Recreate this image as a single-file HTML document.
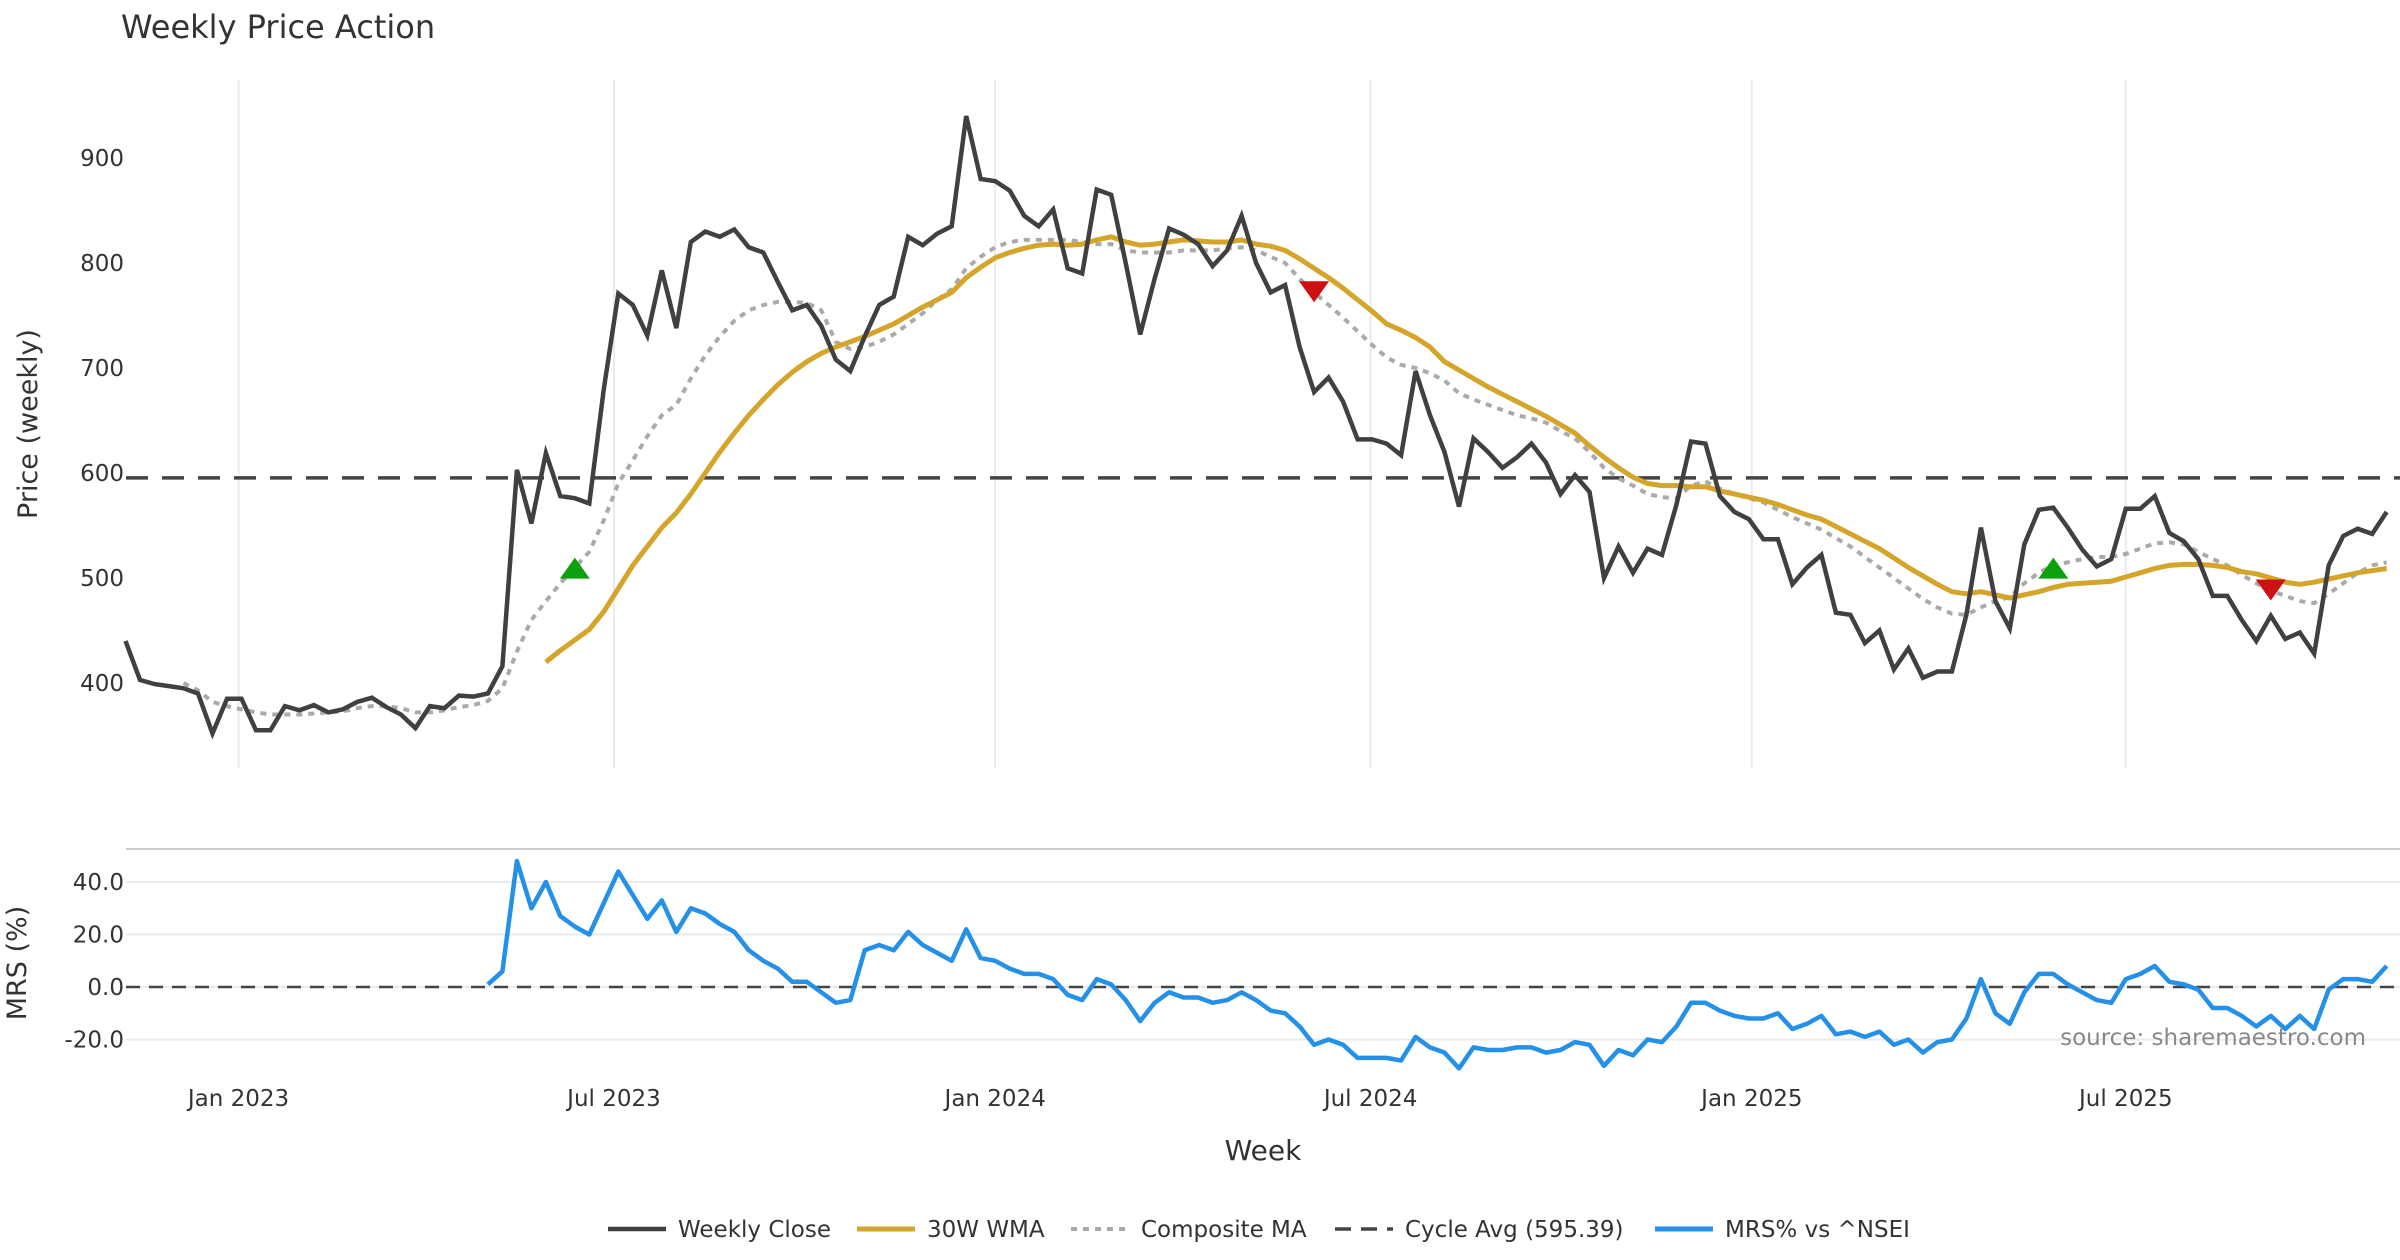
<!DOCTYPE html>
<html><head><meta charset="utf-8"><style>
html,body{margin:0;padding:0;background:#fff;}
svg{display:block;font-family:"DejaVu Sans","Liberation Sans",sans-serif;}
</style></head><body>
<svg id="chart" width="2400" height="1260" viewBox="0 0 2400 1260" xmlns="http://www.w3.org/2000/svg">
<text x="121" y="38" font-size="32" fill="#333">Weekly Price Action</text>
<g id="grid"></g>
<g id="series"></g>
<g id="axes"></g>
<text x="2366" y="1045" font-size="23" fill="#888" text-anchor="end">source: sharemaestro.com</text>
<g id="legend"></g>
</svg>
<script>
const closes=[440,403,399,397,395,390,352,385,385,355,355,378,374,379,372,375,382,386,377,370,357,378,376,388,387,390,416,603,552,619,578,576,571,680,771,760,731,793,738,820,830,825,832,815,810,782,755,760,740,708,697,730,760,768,825,817,828,835,940,880,878,869,845,835,851,795,790,870,865,800,732,785,833,827,818,797,812,845,800,772,779,720,677,691,668,632,632,628,617,697,655,620,568,633,620,605,615,628,610,580,598,582,500,530,505,528,522,570,630,628,578,563,556,537,537,494,510,522,467,465,438,450,413,433,405,411,411,465,548,478,452,532,565,567,548,527,511,518,566,566,578,543,535,518,483,483,460,440,464,442,448,428,512,540,547,542,563];
const wmaStart=29;
const wma=[420,431,441,451,468,490,512,530,548,562,580,600,620,638,655,670,684,696,706,714,720,725,730,736,742,750,758,765,772,786,796,805,810,814,817,818,817,818,822,825,820,817,818,820,822,821,820,820,822,818,816,812,804,795,786,776,765,754,742,736,729,720,706,698,690,682,675,668,661,654,646,638,626,615,605,596,590,588,588,587,587,583,580,577,574,570,565,560,556,549,542,535,528,519,510,502,494,487,485,487,484,481,484,487,491,494,495,496,497,501,505,509,512,513,513,512,510,506,504,500,496,494,496,499,502,505,507,509];
const compStart=4;
const comp=[400,393,382,378,375,372,370,370,370,371,372,373,376,378,378,376,372,372,374,377,379,383,395,430,460,478,495,510,525,555,590,612,635,655,665,690,712,730,745,755,760,763,763,762,755,725,718,720,725,732,742,752,765,775,795,806,815,820,822,822,822,822,820,818,818,812,810,810,810,812,812,812,814,815,812,806,800,785,772,760,748,735,722,710,703,700,695,688,676,670,665,660,655,652,648,640,633,620,605,595,588,580,577,576,588,592,585,580,576,572,565,558,552,546,538,530,520,510,500,490,480,472,466,465,472,478,482,495,505,512,515,518,520,520,523,528,533,534,532,525,518,512,503,495,488,483,478,476,485,495,505,512,515];
const mrs=[1,6,48,30,40,27,23,20,32,44,35,26,33,21,30,28,24,21,14,10,7,2,2,-2,-6,-5,14,16,14,21,16,13,10,22,11,10,7,5,5,3,-3,-5,3,1,-5,-13,-6,-2,-4,-4,-6,-5,-2,-5,-9,-10,-15,-22,-20,-22,-27,-27,-27,-28,-19,-23,-25,-31,-23,-24,-24,-23,-23,-25,-24,-21,-22,-30,-24,-26,-20,-21,-15,-6,-6,-9,-11,-12,-12,-10,-16,-14,-11,-18,-17,-19,-17,-22,-20,-25,-21,-20,-12,3,-10,-14,-2,5,5,1,-2,-5,-6,3,5,8,2,1,-1,-8,-8,-11,-15,-11,-16,-11,-16,-1,3,3,2,8];
const cycleAvg=595.39;
const buyIdx=[31,133];
const buyPrice=[508,508];
const sellIdx=[82,148];
const sellPrice=[774,490];
const priceTicks=[400,500,600,700,800,900];
const mrsTicks=[40,20,0,-20];
const monthLabels=["Jan 2023","Jul 2023","Jan 2024","Jul 2024","Jan 2025","Jul 2025"];
const monthWeekPos=[7.8,33.7,60.0,85.9,112.2,138.0];

const NS="http://www.w3.org/2000/svg";
const X=i=>125.5+i*14.495;
const YP=p=>158+(900-p)*1.05;
const YM=v=>987-v*2.625;
function mk(tag,attrs,parent){const e=document.createElementNS(NS,tag);for(const k in attrs)e.setAttribute(k,attrs[k]);document.getElementById(parent).appendChild(e);return e;}
const L=126,R=2400;
monthWeekPos.forEach((w,k)=>{
  const g=mk('line',{x1:X(w),x2:X(w),y1:80,y2:768,stroke:'#ebebeb','stroke-width':2},'grid');
  
  
  const t=mk('text',{x:X(w),y:1106,'font-size':23,fill:'#333','text-anchor':'middle'},'axes');
  t.textContent=monthLabels[k];
  
  
});
priceTicks.forEach(p=>{
  const t=mk('text',{x:124,y:YP(p)+8,'font-size':23,fill:'#333','text-anchor':'end'},'axes');
  t.textContent=p;
  
  
});
mrsTicks.forEach(v=>{
  const g=mk('line',{x1:L,x2:R,y1:YM(v),y2:YM(v),stroke:'#ebebeb','stroke-width':2},'grid');
  
  
  const t=mk('text',{x:124,y:YM(v)+8,'font-size':23,fill:'#333','text-anchor':'end'},'axes');
  t.textContent=v.toFixed(1);
  
  
});
const sep=mk('line',{x1:L,x2:R,y1:849,y2:849,stroke:'#ccc','stroke-width':2},'grid');


let t=mk('text',{x:0,y:0,'font-size':27,fill:'#333','text-anchor':'middle',transform:'translate(37,424) rotate(-90)'},'axes');
t.textContent='Price (weekly)';


t=mk('text',{x:0,y:0,'font-size':27,fill:'#333','text-anchor':'middle',transform:'translate(26,963) rotate(-90)'},'axes');
t.textContent='MRS (%)';


t=mk('text',{x:1263,y:1160,'font-size':28,fill:'#333','text-anchor':'middle'},'axes');
t.textContent='Week';


function path(vals,start,yf){return vals.map((v,k)=>(k?'L':'M')+X(start+k).toFixed(1)+' '+yf(v).toFixed(1)).join(' ');}
let e=mk('line',{x1:L,x2:R,y1:YP(cycleAvg),y2:YP(cycleAvg),stroke:'#444','stroke-width':3.5,'stroke-dasharray':'22 14'},'series');


e=mk('line',{x1:L,x2:R,y1:YM(0),y2:YM(0),stroke:'#444','stroke-width':2.5,'stroke-dasharray':'14 9'},'series');


e=mk('path',{d:path(comp,compStart,YP),fill:'none',stroke:'#aaa','stroke-width':4,'stroke-dasharray':'6 6'},'series');


e=mk('path',{d:path(wma,wmaStart,YP),fill:'none',stroke:'#d4a52a','stroke-width':5,'stroke-linejoin':'round'},'series');


e=mk('path',{d:path(closes,0,YP),fill:'none',stroke:'#404040','stroke-width':4.5,'stroke-linejoin':'miter'},'series');


const mrsStart=closes.length-mrs.length;
e=mk('path',{d:path(mrs,mrsStart,YM),fill:'none',stroke:'#2590e8','stroke-width':4.5,'stroke-linejoin':'round'},'series');


buyIdx.forEach((i,k)=>{
  const x=X(i),y=YP(buyPrice[k]);
  const m=mk('polygon',{points:`${x-15},${y+9} ${x+15},${y+9} ${x},${y-12}`,fill:'#0fa00f'},'series');
  
  
});
sellIdx.forEach((i,k)=>{
  const x=X(i),y=YP(sellPrice[k]);
  const m=mk('polygon',{points:`${x-15},${y-9} ${x+15},${y-9} ${x},${y+12}`,fill:'#cc1111'},'series');
  
  
});
const legItems=[["Weekly Close",608,'#404040',4.5,''],["30W WMA",857,'#d4a52a',5,''],["Composite MA",1071,'#aaa',4,'6 6'],["Cycle Avg (595.39)",1335,'#444',3.5,'16 10'],["MRS% vs ^NSEI",1655,'#2590e8',5,'']];
legItems.forEach(it=>{
  const l=mk('line',{x1:it[1],x2:it[1]+58,y1:1229,y2:1229,stroke:it[2],'stroke-width':it[3],'stroke-dasharray':it[4]},'legend');
  
  
  const tx=mk('text',{x:it[1]+70,y:1237,'font-size':23,fill:'#333'},'legend');
  tx.textContent=it[0];
  
  
});
</script>
</body></html>
